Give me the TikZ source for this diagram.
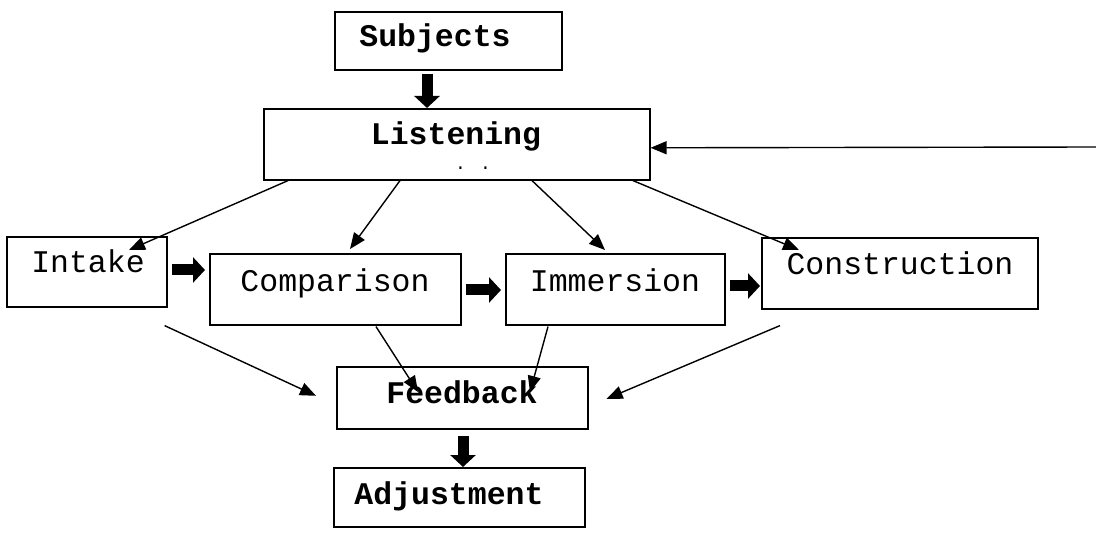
\documentclass[tikz,border=0pt]{standalone}
\usepackage{fontspec}
\setmainfont{Liberation Mono}
\usetikzlibrary{arrows.meta,calc}
\begin{document}
\begin{tikzpicture}[x=1pt,y=-1pt,
  box/.style={draw, line width=1.6pt, inner sep=0pt, anchor=north west},
  lbl/.style={anchor=base, inner sep=0pt, font=\fontsize{31.5}{36}\selectfont},
  blbl/.style={lbl, font=\fontsize{31.5}{36}\selectfont\bfseries},
  link/.style={line width=1.4pt, -{Triangle[length=16pt,width=13pt]}},
  bigarrow/.style={line width=11pt, -{Triangle[length=12pt,width=25pt]}},
]
\useasboundingbox (0,0) rectangle (1096,548);

% boxes
\node[box, minimum width=227pt, minimum height=58pt] (sub) at (334,11) {};
\node[box, minimum width=386pt, minimum height=71pt] (lis) at (263,108) {};
\node[box, minimum width=160pt, minimum height=70pt] (int) at (6,236) {};
\node[box, minimum width=251pt, minimum height=71pt] (cmp) at (209,253) {};
\node[box, minimum width=219pt, minimum height=71pt] (imm) at (505,253) {};
\node[box, minimum width=276pt, minimum height=71pt] (con) at (761,237) {};
\node[box, minimum width=251pt, minimum height=62pt] (fb)  at (336,366) {};
\node[box, minimum width=251pt, minimum height=59pt] (adj) at (333,467) {};

% labels
\node[blbl] (subT) at (435,47)  {Subjects};
\node[blbl] (lisT) at (456,145) {Listening};
\node[lbl, font=\fontsize{18}{20}\selectfont] (lisD) at (473,170) {. .};
\node[lbl]  (intT) at (88,273)  {Intake};
\node[lbl]  (cmpT) at (335,292) {Comparison};
\node[lbl]  (immT) at (615,292) {Immersion};
\node[lbl]  (conT) at (900,275) {Construction};
\node[blbl] (fbT)  at (462,403) {Feedback};
\node[blbl] (adjT) at (449,504) {Adjustment};

% block arrows
\draw[bigarrow] ($(sub.south west)+(93,3)$) -- ($(lis.north west)+(164,0)$);
\draw[bigarrow] ($(int.north east)+(4,34)$) -- ($(cmp.north west)+(-4,17)$);
\draw[bigarrow] ($(cmp.north east)+(4,37)$) -- ($(imm.north west)+(-4,37)$);
\draw[bigarrow] ($(imm.north east)+(4,33)$) -- ($(con.north west)+(-1,49)$);
\draw[bigarrow] ($(fb.south west)+(127,6)$) -- ($(adj.north west)+(130,0)$);

% listening fans out to the four stages
\draw[link] ($(lis.south west)+(25,0)$)  -- ($(int.north west)+(123,14)$);
\draw[link] ($(lis.south west)+(137,0)$) -- ($(cmp.north west)+(141,-4)$);
\draw[link] ($(lis.south west)+(269,0)$) -- ($(imm.north west)+(100,-3)$);
\draw[link] ($(lis.south west)+(370,0)$) -- ($(con.north west)+(38,13)$);

% stages converge on feedback
\draw[link] ($(int.south east)+(-3,18)$) -- ($(fb.west)+(-20,-2)$);
\draw[link] ($(cmp.south west)+(167,1)$) -- ($(fb.north west)+(82,26)$);
\draw[link] ($(imm.south west)+(43,1)$)  -- ($(fb.north west)+(194,26)$);
\draw[link] ($(con.south west)+(19,16)$) -- ($(fb.east)+(18,1)$);

% loop back into listening
\coordinate (loop) at (1096,147);
\draw[link] (loop) -- ($(lis.east)+(0,3.5)$);
\end{tikzpicture}
\end{document}
